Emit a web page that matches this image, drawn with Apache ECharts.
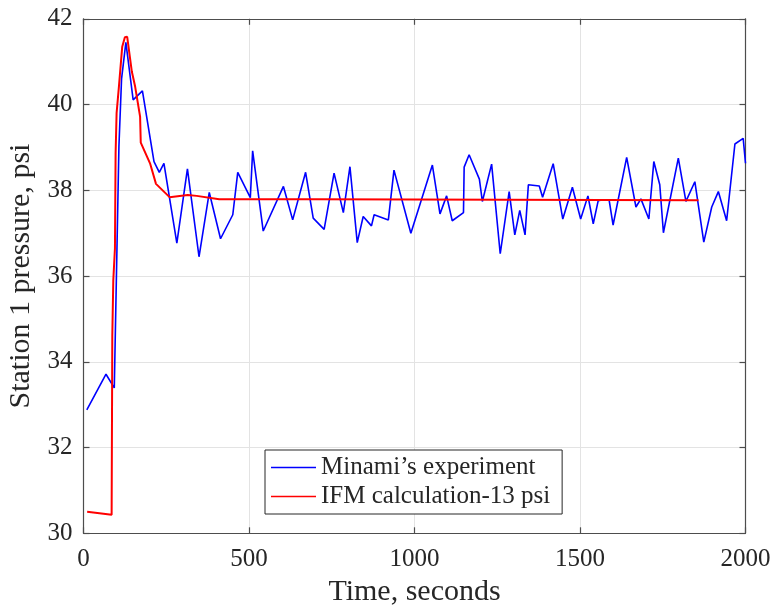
<!DOCTYPE html>
<html>
<head>
<meta charset="utf-8">
<script src="https://cdn.jsdelivr.net/npm/echarts@6/dist/echarts.min.js"></script>
<style>
  html, body { margin: 0; padding: 0; background: #fff; }
  #chart { width: 777px; height: 614px; }
</style>
</head>
<body>
<div id="chart"></div>
<script>
// Measured station 1 pressure (experiment)
const expTime = [10, 68, 93, 107, 115, 128, 150, 178, 213, 229, 243, 282, 314, 349, 380, 414, 451, 466, 504, 511,
  543, 604, 632, 671, 694, 727, 757, 785, 805, 827, 845, 870, 878, 921, 938, 989, 1054, 1077, 1097, 1114,
  1148, 1150, 1165, 1196, 1205, 1233, 1259, 1286, 1303, 1318, 1334, 1344, 1377, 1387, 1419, 1448, 1477, 1502, 1524, 1540,
  1555, 1570, 1588, 1600, 1641, 1669, 1684, 1708, 1723, 1741, 1752, 1797, 1820, 1847, 1874, 1898, 1918, 1943, 1968, 1993, 2000];
const expPressure = [32.88, 33.71, 33.39, 39.02, 40.6, 41.45, 40.11, 40.32, 38.67, 38.42, 38.63, 36.77, 38.5, 36.45, 37.95, 36.87, 37.43, 38.42, 37.83, 38.92,
  37.05, 38.09, 37.31, 38.42, 37.35, 37.09, 38.40, 37.48, 38.55, 36.78, 37.39, 37.17, 37.43, 37.31, 38.47, 37.0, 38.59, 37.45, 37.87, 37.29,
  37.48, 38.54, 38.83, 38.26, 37.74, 38.61, 36.52, 37.97, 36.96, 37.53, 36.96, 38.13, 38.10, 37.84, 38.62, 37.33, 38.07, 37.33, 37.87, 37.22,
  37.76, 37.78, 37.77, 37.19, 38.77, 37.61, 37.80, 37.33, 38.67, 38.13, 37.01, 38.75, 37.74, 38.20, 36.79, 37.61, 37.97, 37.29, 39.08, 39.21, 38.63];

// IFM calculation, 13 psi case
const calcTime = [11, 85, 87, 90, 95, 97, 100, 107, 117, 125, 132, 146, 156, 171, 173, 201, 219, 260, 315, 342, 410, 700, 702, 1858];
const calcPressure = [30.50, 30.43, 34.6, 35.9, 36.65, 38.86, 39.8, 40.42, 41.35, 41.57, 41.58, 40.77, 40.42, 39.72, 39.11, 38.63, 38.15, 37.84, 37.89, 37.87, 37.79, 37.79, 37.77, 37.77];

// Axis ticks
const timeTicks = [0, 500, 1000, 1500, 2000];
const pressureTicks = [30, 32, 34, 36, 38, 40, 42];

const seriesNames = ['Minami\u2019s experiment', 'IFM calculation-13 psi'];
const xLabel = 'Time, seconds';
const yLabel = 'Station 1 pressure, psi';

const pairs = (xs, ys) => xs.map((x, i) => [x, ys[i]]);

const FONT = '"Liberation Serif", "DejaVu Serif", serif';
const INK = '#262626';
const BOX = '#4d4d4d';

const chart = echarts.init(document.getElementById('chart'), null, { renderer: 'canvas' });

const baseX = {
  type: 'value',
  min: timeTicks[0],
  max: timeTicks[timeTicks.length - 1],
  interval: timeTicks[1] - timeTicks[0]
};
const baseY = {
  type: 'value',
  min: pressureTicks[0],
  max: pressureTicks[pressureTicks.length - 1],
  interval: pressureTicks[1] - pressureTicks[0]
};
const boxLine = { show: true, onZero: false, lineStyle: { color: BOX, width: 1.2 } };
const boxTick = { show: true, inside: true, length: 6, lineStyle: { color: BOX, width: 1.2 } };
const gridLine = { show: true, lineStyle: { color: '#e3e3e3', width: 1 } };

chart.setOption({
  animation: false,
  backgroundColor: '#ffffff',
  grid: { left: 83.5, right: 31.5, top: 18.8, bottom: 80.7, containLabel: false, outerBoundsMode: 'none' },
  xAxis: [
    Object.assign({}, baseX, {
      position: 'bottom',
      name: xLabel,
      nameLocation: 'middle',
      nameGap: 44,
      nameTextStyle: { fontFamily: FONT, fontSize: 30, color: INK },
      axisLine: boxLine,
      axisTick: boxTick,
      axisLabel: { show: true, margin: 14, fontFamily: FONT, fontSize: 25, color: INK, formatter: v => String(v) },
      splitLine: gridLine
    }),
    Object.assign({}, baseX, {
      position: 'top',
      axisLine: boxLine,
      axisTick: boxTick,
      axisLabel: { show: false },
      splitLine: { show: false }
    })
  ],
  yAxis: [
    Object.assign({}, baseY, {
      position: 'left',
      name: yLabel,
      nameLocation: 'middle',
      nameGap: 46,
      nameTextStyle: { fontFamily: FONT, fontSize: 30, color: INK },
      axisLine: boxLine,
      axisTick: boxTick,
      axisLabel: { show: true, margin: 11, fontFamily: FONT, fontSize: 25, color: INK },
      splitLine: gridLine
    }),
    Object.assign({}, baseY, {
      position: 'right',
      axisLine: boxLine,
      axisTick: boxTick,
      axisLabel: { show: false },
      splitLine: { show: false }
    })
  ],
  legend: {
    orient: 'vertical',
    left: 265,
    top: 450,
    padding: [3, 12, 3, 6],
    itemGap: 0,
    itemWidth: 45,
    itemHeight: 1.6,
    icon: 'rect',
    backgroundColor: '#ffffff',
    borderColor: '#262626',
    borderWidth: 1,
    borderRadius: 0,
    textStyle: { fontFamily: FONT, fontSize: 25, color: INK, lineHeight: 29 },
    data: seriesNames.map(n => ({ name: n }))
  },
  series: [
    {
      name: seriesNames[0],
      type: 'line',
      data: pairs(expTime, expPressure),
      symbol: 'none',
      showSymbol: false,
      lineStyle: { color: '#0000ff', width: 1.6 },
      itemStyle: { color: '#0000ff' },
      z: 2
    },
    {
      name: seriesNames[1],
      type: 'line',
      data: pairs(calcTime, calcPressure),
      symbol: 'none',
      showSymbol: false,
      lineStyle: { color: '#ff0000', width: 2 },
      itemStyle: { color: '#ff0000' },
      z: 3
    }
  ]
});
</script>
</body>
</html>
